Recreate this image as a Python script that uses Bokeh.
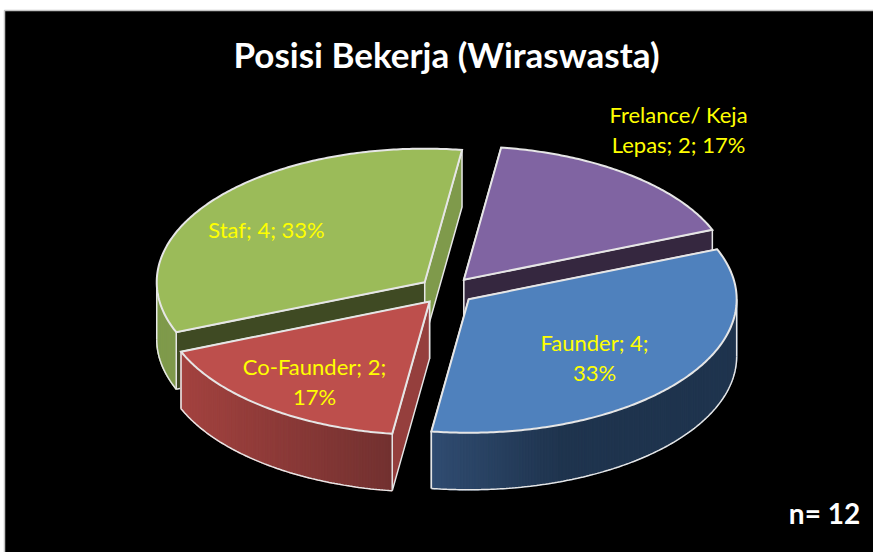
import math
from bokeh.plotting import figure
from bokeh.models import Range1d
from bokeh.core.properties import value
from bokeh.embed import file_html
from bokeh.resources import INLINE

# ---- data ----
title_text = "Posisi Bekerja (Wiraswasta)"
note_text = "n= 12"
categories = ["Faunder", "Co-Faunder", "Staf", "Frelance/ Keja Lepas"]
values = [4, 2, 4, 2]
top_colors = ["#4f81bd", "#bd4f4c", "#9bbb59", "#8064a2"]
# outer wall gradient (left colour, right colour, x where the right colour is reached)
wall_colors = [("#304c71", "#1f344e", 560), ("#a3423f", "#723130", 392),
               ("#7f9a4b", "#7f9a4b", 200), ("#35273f", "#35273f", 700)]
# cut faces: (colour, start edge?) listed hidden face first, visible face last
face_order = [((0, "#1f344e"), (1, "#1f344e")), ((1, "#723130"), (0, "#953f3d")),
              ((0, "#3f4a23"), (1, "#7f9a4b")), ((0, "#35273f"), (1, "#35273f"))]
label_lines = [["Faunder; 4;", "33%"], ["Co-Faunder; 2;", "17%"],
               ["Staf; 4; 33%"], ["Frelance/ Keja", "Lepas; 2; 17%"]]
label_pos = [(594, 357), (314, 381), (266, 229), (678, 129)]

# ---- projection of the pie ----
CX, CY, A, B = 446.2, 290.2, 268.0, 133.5
DEPTH, EXPLODE, START = 57.0, 0.104, 22.0
EDGE = "#e6e6e6"
FONT = "Lato"

W, H = 873, 552
p = figure(width=W, height=H, output_backend="svg", toolbar_location=None,
           x_range=Range1d(0, W), y_range=Range1d(H, 0),
           min_border=0, tools="")
p.axis.visible = False
p.grid.visible = False
p.outline_line_color = None
p.background_fill_color = "white"
p.border_fill_color = "white"
p.quad(left=[4], right=[880], top=[10], bottom=[560], fill_color="black",
       line_color="#c4c4c4", line_width=1.5)


def hex2rgb(h):
    return tuple(int(h[i:i + 2], 16) for i in (1, 3, 5))


def mix(c0, c1, f):
    f = max(0.0, min(1.0, f))
    a, b = hex2rgb(c0), hex2rgb(c1)
    return "#%02x%02x%02x" % tuple(round(a[i] + (b[i] - a[i]) * f) for i in range(3))


def arc(t0, t1, ox, oy, drop=0.0):
    n = max(2, int(abs(t1 - t0) * 1.5))
    ts = [math.radians(t0 + (t1 - t0) * i / n) for i in range(n + 1)]
    return ([ox + A * math.cos(t) for t in ts],
            [oy - B * math.sin(t) + drop for t in ts])


total = sum(values)
slices = []
t = START
for i, v in enumerate(values):
    slices.append((i, t, t - 360.0 * v / total))
    t -= 360.0 * v / total

# back to front: purple, green, red, blue
for i, t0, t1 in reversed(slices):
    mid = math.radians((t0 + t1) / 2)
    ox = CX + EXPLODE * A * math.cos(mid)
    oy = CY - EXPLODE * B * math.sin(mid)

    # cut faces
    for which, col in face_order[i]:
        te = t1 if which else t0
        ex = ox + A * math.cos(math.radians(te))
        ey = oy - B * math.sin(math.radians(te))
        p.patch([ox, ex, ex, ox], [oy, ey, ey + DEPTH, oy + DEPTH],
                fill_color=col, line_color=EDGE, line_width=1.5)

    # outer wall: only the part of the rim in the front half of the ellipse
    wa, wb = None, None
    for k in (0, -360, 360):
        lo, hi = max(t1 + k, -180), min(t0 + k, 0)
        if hi > lo:
            wa, wb = hi, lo
    if wa is not None:
        c0, c1, xr = wall_colors[i]
        xs, ys = arc(wa, wb, ox, oy)
        ys2 = [y + DEPTH for y in ys]
        xleft = min(xs)
        qx, qy, qc = [], [], []
        for j in range(len(xs) - 1):
            qx.append([xs[j], xs[j + 1], xs[j + 1], xs[j]])
            qy.append([ys[j], ys[j + 1], ys2[j + 1], ys2[j]])
            xm = (xs[j] + xs[j + 1]) / 2
            qc.append(mix(c0, c1, (xm - xleft) / max(1, xr - xleft)))
        p.patches(qx, qy, fill_color=qc, line_color=qc, line_width=1.5)
        p.line(xs, ys2, line_color=EDGE, line_width=1.5)
        for xe, ye, ye2 in ((xs[0], ys[0], ys2[0]), (xs[-1], ys[-1], ys2[-1])):
            p.line([xe, xe], [ye, ye2], line_color=EDGE, line_width=1.5)

    # top surface
    xs, ys = arc(t0, t1, ox, oy)
    p.patch([ox] + xs, [oy] + ys, fill_color=top_colors[i],
            line_color=EDGE, line_width=2.0, line_join="miter")

# labels
for lines, (x, y) in zip(label_lines, label_pos):
    p.text([x], [y], text=["\n".join(lines)], text_color="#ffff00",
           text_font=value(FONT), text_font_size="22px",
           text_align="center", text_baseline="middle", text_line_height=1.08)

p.text([446], [53], text=[title_text], text_color="white", text_font=value(FONT),
       text_font_size="35px", text_font_style="bold", text_align="center",
       text_baseline="middle")
p.text([824], [512], text=[note_text], text_color="white", text_font=value(FONT),
       text_font_size="28px", text_font_style="bold", text_align="center",
       text_baseline="middle")

open("out.html", "w").write(file_html(p, INLINE))
